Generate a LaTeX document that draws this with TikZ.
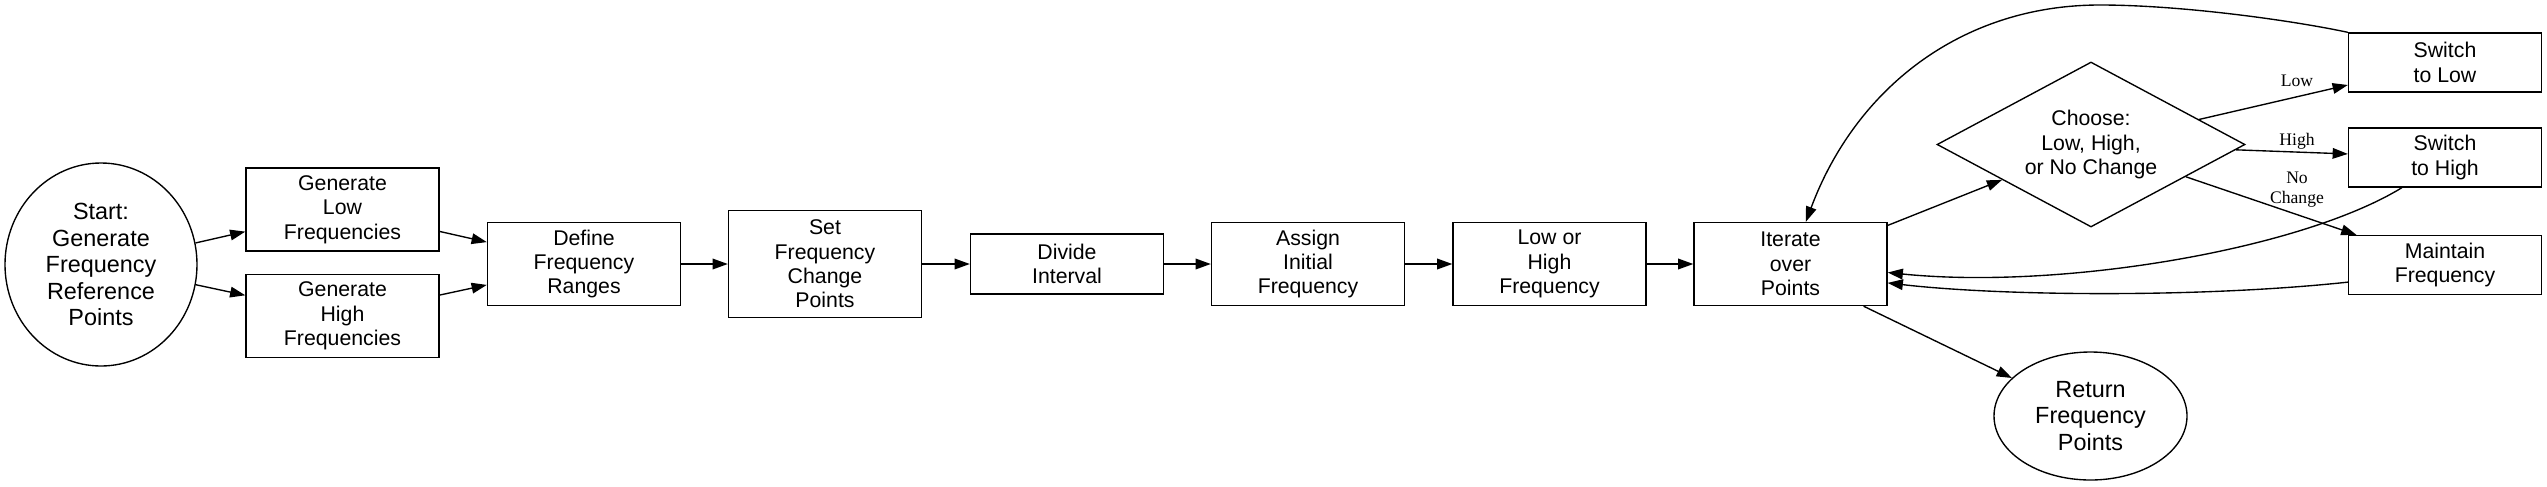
\documentclass[tikz,border=0pt]{standalone}
\usepackage{fontspec}
\setmainfont{Liberation Sans}
\newfontfamily\edgefont{Liberation Serif}
\usetikzlibrary{shapes,arrows.meta}
\usetikzlibrary{shapes.geometric}

\def\px{0.658pt}
\def\nodefont{\fontsize{14}{16}\selectfont}
\def\bigfont{\fontsize{15.4}{17.4}\selectfont}
\def\labelfont{\edgefont\fontsize{11.6}{13.2}\selectfont}

\begin{document}
\begin{tikzpicture}[x=\px, y=-\px, line width=0.9pt]
\tikzstyle{block}=[draw, rectangle, align=center, inner sep=0pt, minimum width=193*\px, font=\nodefont];
\tikzstyle{terminal}=[draw, ellipse, align=center, inner sep=0pt, font=\bigfont];
\tikzstyle{decision}=[draw, diamond, aspect=1.87, align=center, inner sep=0pt, minimum width=308*\px, minimum height=165*\px, font=\nodefont];
\tikzstyle{flowarrow}=[draw=black, -{Triangle[length=10pt,width=7pt]}];
\tikzstyle{edgelabel}=[align=center, inner sep=0pt, font=\labelfont];

\useasboundingbox (0,0) rectangle (2547,486);

% start and the two generators
\node [terminal, minimum width=192*\px, minimum height=203*\px] (start) at (101,264.5) {Start:\\Generate\\Frequency\\Reference\\Points};
\node [block, minimum height=83*\px] (genlow) at (342.5,209.5) {Generate\\Low\\Frequencies};
\node [block, minimum height=83*\px] (genhigh) at (342.5,316) {Generate\\High\\Frequencies};

% main chain
\node [block, minimum height=83*\px] (ranges) at (584,264) {Define\\Frequency\\Ranges};
\node [block, minimum height=107*\px] (changepts) at (825,264) {Set\\Frequency\\Change\\Points};
\node [block, minimum height=60*\px] (divide) at (1067,264) {Divide\\Interval};
\node [block, minimum height=83*\px] (assign) at (1308,264) {Assign\\Initial\\Frequency};
\node [block, minimum height=83*\px] (lowhigh) at (1549.5,264) {Low or\\High\\Frequency};
\node [block, minimum height=83*\px] (iter) at (1790.5,264) {Iterate\\over\\Points};

% choice and its three outcomes
\node [decision] (choose) at (2091,144.5) {Choose:\\Low, High,\\or No Change};
\node [block, minimum height=59*\px] (swlow) at (2445,62.5) {Switch\\to Low};
\node [block, minimum height=59*\px] (swhigh) at (2445,157.5) {Switch\\to High};
\node [block, minimum height=59*\px] (maintain) at (2445,265) {Maintain\\Frequency};

\node [terminal, minimum width=193*\px, minimum height=128*\px] (ret) at (2090.5,416) {Return\\Frequency\\Points};

\draw [flowarrow] (start) -- (genlow);
\draw [flowarrow] (start) -- (genhigh);
\draw [flowarrow] (genlow) -- (ranges);
\draw [flowarrow] (genhigh) -- (ranges);
\draw [flowarrow] (ranges) -- (changepts);
\draw [flowarrow] (changepts) -- (divide);
\draw [flowarrow] (divide) -- (assign);
\draw [flowarrow] (assign) -- (lowhigh);
\draw [flowarrow] (lowhigh) -- (iter);
\draw [flowarrow] (iter) -- (choose);

\draw [flowarrow] (choose) -- (swlow);
\draw [flowarrow] (choose) -- (swhigh);
\draw [flowarrow] (choose) -- (maintain);
\node [edgelabel] (lbllow) at (2297,81) {Low};
\node [edgelabel] (lblhigh) at (2297,141.5) {High};
\node [edgelabel] (lblsame) at (2297,190) {No\\Change};

% loops back to the iteration
\draw [flowarrow] (swlow.north west) .. controls (2290,20) and (2180,5) .. (2100,5)
      .. controls (1960,5) and (1855,90) .. (iter.70);
\draw [flowarrow] (swhigh.215) .. controls (2300,250) and (2060,290) .. (iter.-5);
\draw [flowarrow] (maintain.190) .. controls (2200,298) and (2000,296) .. (iter.-11);

\draw [flowarrow] (iter.-30) -- (ret);

\end{tikzpicture}
\end{document}
